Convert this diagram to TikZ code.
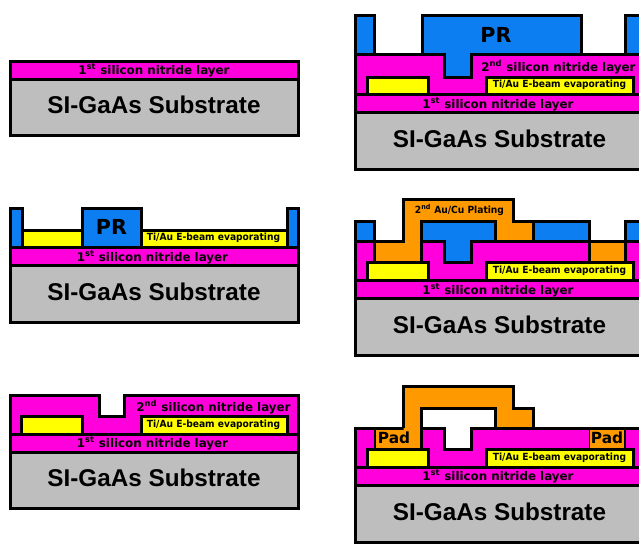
\documentclass[tikz,border=0pt]{standalone}
\usepackage{fontspec}
\setmainfont{Liberation Sans}
\newfontfamily\dejavu{DejaVu Sans}
\definecolor{nitride}{HTML}{FF00DC}
\definecolor{prblue}{HTML}{0C7EF2}
\definecolor{ylw}{HTML}{FFFF00}
\definecolor{plate}{HTML}{FF9900}
\definecolor{subst}{HTML}{BEBEBE}
\tikzset{
  layer/.style={draw=black,line width=2.25pt,line join=miter},
  thinlayer/.style={draw=black,line width=1.3pt,line join=miter},
  subtext/.style={font=\bfseries\fontsize{18.2pt}{20pt}\selectfont,inner sep=0pt,anchor=center},
  ntext/.style={font=\dejavu\bfseries\fontsize{8.9pt}{10pt}\selectfont,inner sep=0pt,anchor=center},
  ytext/.style={font=\dejavu\bfseries\fontsize{7.4pt}{9pt}\selectfont,inner sep=0pt,anchor=center},
  prtext/.style={font=\dejavu\bfseries\fontsize{15.5pt}{17pt}\selectfont,inner sep=0pt,anchor=center},
  padtext/.style={font=\dejavu\bfseries\fontsize{11.5pt}{13pt}\selectfont,inner sep=0pt,anchor=center},
}
\newcommand{\first}{1\textsuperscript{st} silicon nitride layer}
\newcommand{\second}{2\textsuperscript{nd} silicon nitride layer}
\newcommand{\tiau}{\scalebox{0.925}[1]{Ti/Au E-beam evaporating}}
\begin{document}
\begin{tikzpicture}[x=0.75pt,y=-0.75pt]
\useasboundingbox (0,0) rectangle (639,543);
\clip (0,0) rectangle (639,543);
% Panel A
\draw[layer,fill=subst] (10,79) rectangle (298,135);
\draw[layer,fill=nitride] (10,61) rectangle (298,79);
\node[ntext] (a1) at (154,70.5) {\first};
\node[subtext] (a2) at (154,105) {SI-GaAs Substrate};
% Panel B
\draw[layer,fill=subst] (10,265) rectangle (298,322);
\draw[layer,fill=nitride] (10,247.5) rectangle (298,265);
\draw[layer,fill=ylw] (22,230) rectangle (287,247.5);
\draw[layer,fill=prblue] (10,208) rectangle (22,247.5);
\draw[layer,fill=prblue] (287,208) rectangle (298,247.5);
\draw[layer,fill=prblue] (82.5,208) rectangle (141,247.5);
\node[prtext] (b0) at (111.5,226.5) {PR};
\node[ytext] (b1) at (213.5,238) {\tiau};
\node[ntext] (b2) at (152.5,257) {\first};
\node[subtext] (b3) at (154,292) {SI-GaAs Substrate};
% Panel C
\draw[layer,fill=subst] (10,452) rectangle (298,508);
\draw[layer,fill=nitride] (10,395) -- (99,395) -- (99,416) -- (124.5,416) -- (124.5,395) -- (298,395) -- (298,434) -- (10,434) -- cycle;
\draw[layer,fill=nitride] (10,434) rectangle (298,452);
\draw[layer,fill=ylw] (21,416) rectangle (82,434);
\draw[layer,fill=ylw] (141,416) rectangle (287,434);
\node[ntext] (c1) at (213.5,407) {\second};
\node[ytext] (c2) at (213.5,424.5) {\tiau};
\node[ntext] (c3) at (152.5,443.5) {\first};
\node[subtext] (c4) at (154,478) {SI-GaAs Substrate};
% Panel D
\draw[layer,fill=subst] (355,112) rectangle (645,169);
\draw[layer,fill=nitride] (355,54) rectangle (645,94);
\draw[layer,fill=nitride] (355,94) rectangle (645,112);
\draw[layer,fill=ylw] (367,77) rectangle (428,94);
\draw[layer,fill=ylw] (486,77) rectangle (633,94);
\draw[layer,fill=prblue] (355,15) rectangle (374.5,54);
\draw[layer,fill=prblue] (625,15) rectangle (645,54);
\draw[layer,fill=prblue] (422,15) -- (581,15) -- (581,54) -- (471,54) -- (471,77) -- (444,77) -- (444,54) -- (422,54) -- cycle;
\node[prtext] (d0) at (496,35) {PR};
\node[ntext] (d1) at (558.5,67) {\second};
\node[ytext] (d2) at (559.5,85) {\tiau};
\node[ntext] (d3) at (498,104) {\first};
\node[subtext] (d4) at (499.5,139) {SI-GaAs Substrate};
% Panel E
\draw[layer,fill=subst] (355,298.5) rectangle (645,355);
\draw[layer,fill=nitride] (355,241) rectangle (645,280);
\draw[layer,fill=nitride] (355,280) rectangle (645,298.5);
\draw[layer,fill=prblue] (355,221) rectangle (374.5,241);
\draw[layer,fill=prblue] (625,221) rectangle (645,241);
\draw[layer,fill=prblue] (533.5,221) rectangle (589,241);
\draw[layer,fill=plate] (374.5,241) -- (403.5,241) -- (403.5,199.5) -- (513.5,199.5) -- (513.5,221) -- (533.5,221) -- (533.5,241) -- (421.5,241) -- (421.5,262) -- (374.5,262) -- cycle;
\draw[layer,fill=prblue] (421.5,221) -- (495,221) -- (495,241) -- (471,241) -- (471,262) -- (444,262) -- (444,241) -- (421.5,241) -- cycle;
\draw[layer,fill=plate] (589,241) rectangle (625,262);
\draw[layer,fill=ylw] (367,262) rectangle (428,280);
\draw[layer,fill=ylw] (486,262) rectangle (633,280);
\node[ytext] (e0) at (459.5,210) {\scalebox{0.925}[1]{2\textsuperscript{nd} Au/Cu Plating}};
\node[ytext] (e2) at (559.5,271) {\tiau};
\node[ntext] (e3) at (498,290) {\first};
\node[subtext] (e4) at (499.5,325) {SI-GaAs Substrate};
% Panel F
\draw[layer,fill=subst] (355,485) rectangle (645,542);
\draw[layer,fill=nitride] (355,428) rectangle (645,467);
\draw[layer,fill=nitride] (355,467) rectangle (645,485);
\draw[layer,fill=white] (421.5,408.5) -- (495,408.5) -- (495,428) -- (471,428) -- (471,449) -- (444,449) -- (444,428) -- (421.5,428) -- cycle;
\draw[thinlayer,fill=plate] (375,429) rectangle (421.5,449);
\draw[thinlayer,fill=plate] (589.5,429) rectangle (625,449);
\fill[plate] (403.5,386) -- (513.5,386) -- (513.5,408.5) -- (533.5,408.5) -- (533.5,428) -- (495,428) -- (495,408.5) -- (421.5,408.5) -- (421.5,448) -- (403.5,448) -- cycle;
\draw[layer] (403.5,428) -- (403.5,386) -- (513.5,386) -- (513.5,408.5) -- (533.5,408.5) -- (533.5,428) -- (495,428) -- (495,408.5) -- (421.5,408.5) -- (421.5,449);
\draw[layer,fill=ylw] (367,449) rectangle (428,467);
\draw[layer,fill=ylw] (486,449) rectangle (633,467);
\node[padtext] (f0) at (394,437.5) {Pad};
\node[padtext] (f1) at (607,437.5) {Pad};
\node[ytext] (f2) at (559.5,457.5) {\tiau};
\node[ntext] (f3) at (498,476.5) {\first};
\node[subtext] (f4) at (499.5,511.5) {SI-GaAs Substrate};
\end{tikzpicture}
\end{document}
